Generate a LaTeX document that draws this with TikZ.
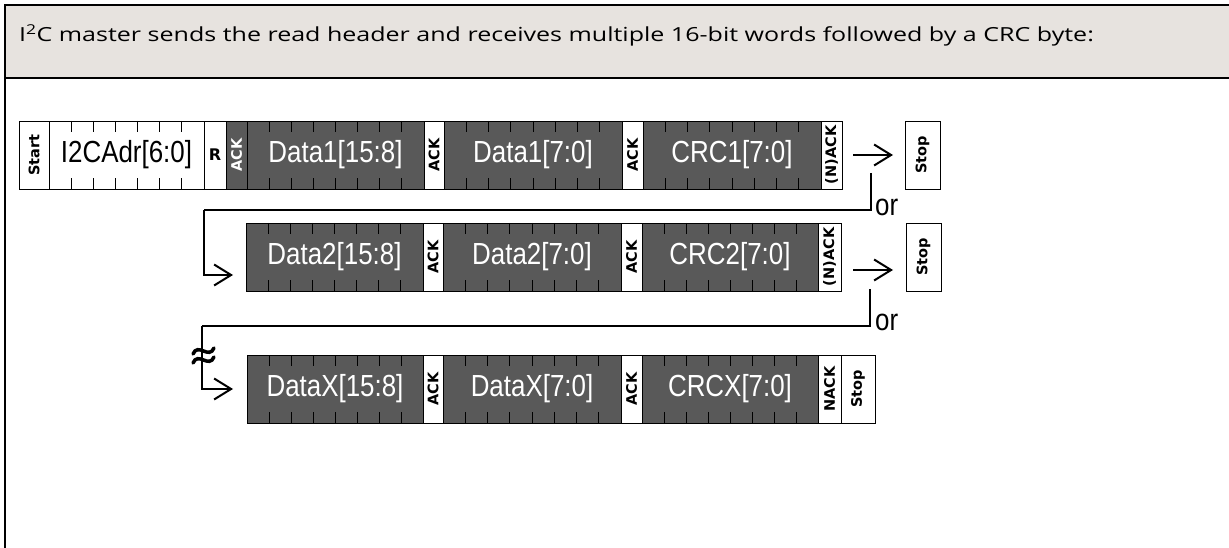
\documentclass[tikz,border=0pt]{standalone}
\usepackage{fontspec}
\setmainfont{Open Sans}
\newfontfamily\titlefont[FakeStretch=1.29]{Open Sans}
\newfontfamily\narrowfont[FakeStretch=0.85]{Liberation Sans}
\newfontfamily\labfont{DejaVu Sans}
\usetikzlibrary{arrows.meta,calc}
\definecolor{hdrfill}{RGB}{231,227,223}
\definecolor{darkfill}{RGB}{89,89,89}
\tikzset{
  field/.style={draw=black, line width=0.8pt, minimum height=68pt, inner sep=0pt, outer sep=0pt, anchor=north west},
  wfield/.style={field, fill=white, text=black},
  dfield/.style={field, fill=darkfill, text=white},
  bigtext/.style={font=\narrowfont\fontsize{30.5}{32}\selectfont},
  smalltext/.style={font=\labfont\bfseries\fontsize{14.5}{15}\selectfont},
  rtext/.style={font=\labfont\bfseries\fontsize{16}{17}\selectfont},
  bittick/.style={line width=0.8pt, draw=black},
  conn/.style={line width=2pt, -{Straight Barb[length=17pt,width=21pt,line width=2pt]}},
  route/.style={line width=2pt, line join=miter},
  ortext/.style={font=\narrowfont\fontsize{30.5}{32}\selectfont, inner sep=0pt, anchor=base west},
  frame/.style={line width=2.5pt, draw=black},
}
\newcommand\vlab[1]{\rotatebox{90}{#1}}
\newcommand\bitticks[2]{%
  \pgfmathtruncatemacro\nlast{#2-1}%
  \foreach \i in {1,...,\nlast}{%
    \draw[bittick] ($(#1.north west)!\i/#2!(#1.north east)$) -- ++(0,11);
    \draw[bittick] ($(#1.south west)!\i/#2!(#1.south east)$) -- ++(0,-11);
  }}
\begin{document}
\begin{tikzpicture}[x=1pt,y=-1pt]
\useasboundingbox (0,0) rectangle (1229,548);
% header band and frame
\fill[hdrfill] (5,5) rectangle (1235,78);
\draw[frame] (1235,5) -- (5,5) -- (5,552);
\draw[frame] (5,78) -- (1235,78);
\node[anchor=base west, inner sep=0pt, font=\titlefont\fontsize{19.4}{21}\selectfont] (title) at (19,42)
  {I\textsuperscript{2}C master sends the read header and receives multiple 16-bit words followed by a CRC byte:};

% row 1
\node[wfield, minimum width=30pt, smalltext] (start) at (19,121) {\vlab{Start}};
\node[wfield, minimum width=155pt, bigtext] (addr) at (start.north east) {I2CAdr[6:0]};
\node[wfield, minimum width=22pt, rtext] (rw) at (addr.north east) {R};
\node[dfield, minimum width=21pt, smalltext] (ack0) at (rw.north east) {\vlab{ACK}};
\node[dfield, minimum width=177pt, bigtext] (d1h) at (ack0.north east) {Data1[15:8]};
\node[wfield, minimum width=20pt, smalltext] (ack1) at (d1h.north east) {\vlab{ACK}};
\node[dfield, minimum width=178pt, bigtext] (d1l) at (ack1.north east) {Data1[7:0]};
\node[wfield, minimum width=21pt, smalltext] (ack2) at (d1l.north east) {\vlab{ACK}};
\node[dfield, minimum width=178pt, bigtext] (crc1) at (ack2.north east) {CRC1[7:0]};
\node[wfield, minimum width=21pt, smalltext] (nack1) at (crc1.north east) {\vlab{(N)ACK}};
\node[wfield, minimum width=35pt, smalltext] (stop1) at (905,121) {\vlab{Stop}};
\bitticks{addr}{7}
\bitticks{d1h}{8}
\bitticks{d1l}{8}
\bitticks{crc1}{8}

% row 2
\node[dfield, minimum width=177pt, bigtext] (d2h) at (246,223) {Data2[15:8]};
\node[wfield, minimum width=20pt, smalltext] (ack3) at (d2h.north east) {\vlab{ACK}};
\node[dfield, minimum width=178pt, bigtext] (d2l) at (ack3.north east) {Data2[7:0]};
\node[wfield, minimum width=21pt, smalltext] (ack4) at (d2l.north east) {\vlab{ACK}};
\node[dfield, minimum width=176pt, bigtext] (crc2) at (ack4.north east) {CRC2[7:0]};
\node[wfield, minimum width=23pt, smalltext] (nack2) at (crc2.north east) {\vlab{(N)ACK}};
\node[wfield, minimum width=35pt, smalltext] (stop2) at (906,223) {\vlab{Stop}};
\bitticks{d2h}{8}
\bitticks{d2l}{8}
\bitticks{crc2}{8}

% row 3
\node[dfield, minimum width=176pt, bigtext] (dxh) at (247,355) {DataX[15:8]};
\node[wfield, minimum width=20pt, smalltext] (ack5) at (dxh.north east) {\vlab{ACK}};
\node[dfield, minimum width=178pt, bigtext] (dxl) at (ack5.north east) {DataX[7:0]};
\node[wfield, minimum width=21pt, smalltext] (ack6) at (dxl.north east) {\vlab{ACK}};
\node[dfield, minimum width=176pt, bigtext] (crcx) at (ack6.north east) {CRCX[7:0]};
\node[wfield, minimum width=23pt, smalltext] (nack3) at (crcx.north east) {\vlab{NACK}};
\node[wfield, minimum width=34pt, smalltext] (stop3) at (nack3.north east) {\vlab{Stop}};
\bitticks{dxh}{8}
\bitticks{dxl}{8}
\bitticks{crcx}{8}

% arrows to Stop
\draw[conn, shorten <=11pt, shorten >=12pt] (nack1) -- (stop1);
\draw[conn, shorten <=12pt, shorten >=13pt] ([yshift=-13pt]nack2.east) -- ([yshift=-13pt]stop2.west);

% route 1
\coordinate (r1s) at (871,173);
\coordinate (r1b) at (204,210);
\draw[route] (r1s) |- (r1b);
\draw[route, conn, shorten >=13pt] (r1b) |- ([yshift=-18pt]d2h.west);
\node[ortext] (or1) at (875,216) {or};

% route 2
\coordinate (r2s) at (870,289);
\coordinate (r2b) at (202,326);
\draw[route] (r2s) |- (r2b);
\draw[route, conn, shorten >=14pt] (r2b) |- (dxh.west);
\node[ortext] (or2) at (875,330) {or};
% break mark
\foreach \yy in {351,360}{
  \draw[line width=3.5pt, line cap=round] (193,\yy+3) .. controls (198,\yy-9) and (209,\yy+9) .. (214,\yy-3);
}
\end{tikzpicture}
\end{document}
